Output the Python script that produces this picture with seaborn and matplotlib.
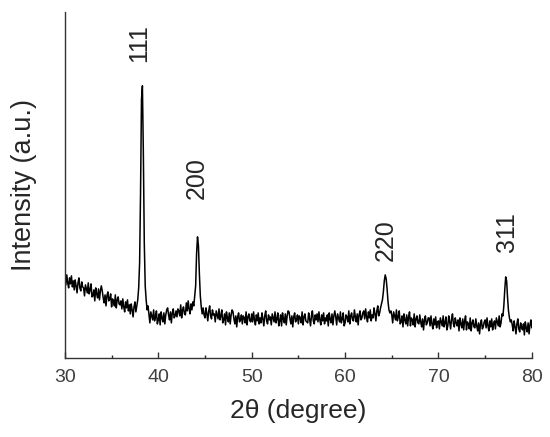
import numpy as np
import pandas as pd
import matplotlib
matplotlib.use('Agg')
import matplotlib.pyplot as plt
from matplotlib.ticker import MultipleLocator
import seaborn as sns

# 2theta grid: 30.0 .. 80.0 step 0.1
two_theta = np.round(np.arange(300, 801) / 10.0, 1)

# intensity, one row per degree (x.0 .. x.9)
intensity = [
    81, 73, 83, 75, 70, 80, 74, 82, 71, 77,    # 30
    68, 78, 72, 65, 75, 80, 70, 67, 76, 71,    # 31
    70, 62, 73, 69, 65, 75, 64, 68, 74, 61,    # 32
    62, 68, 57, 70, 64, 60, 69, 58, 67, 72,    # 33
    67, 60, 55, 63, 52, 62, 66, 57, 59, 64,    # 34
    51, 59, 57, 52, 63, 50, 58, 61, 54, 53,    # 35
    57, 49, 59, 51, 46, 56, 50, 58, 47, 53,    # 36
    44, 54, 48, 41, 51, 56, 46, 52, 58, 70,    # 37
    95, 165, 258, 272, 205, 115, 72, 58, 48, 52,  # 38  (111)
    43, 35, 46, 42, 38, 48, 37, 41, 47, 34,    # 39
    38, 44, 33, 46, 40, 36, 45, 34, 43, 48,    # 40
    50, 43, 38, 46, 35, 45, 49, 40, 42, 47,    # 41
    41, 49, 47, 42, 53, 40, 48, 51, 44, 43,    # 42
    55, 47, 57, 49, 44, 54, 48, 56, 52, 62,    # 43
    72, 104, 121, 112, 84, 62, 51, 44, 50, 43,  # 44  (200)
    40, 50, 44, 37, 47, 52, 42, 39, 48, 43,    # 45
    44, 36, 47, 43, 39, 49, 38, 42, 48, 35,    # 46
    38, 44, 33, 46, 40, 36, 45, 34, 43, 48,    # 47
    46, 39, 34, 42, 31, 41, 45, 36, 38, 43,    # 48
    34, 42, 40, 35, 46, 33, 41, 44, 37, 36,    # 49
    44, 36, 46, 38, 33, 43, 37, 45, 34, 40,    # 50
    35, 45, 39, 32, 42, 47, 37, 34, 43, 38,    # 51
    41, 33, 44, 40, 36, 46, 35, 39, 45, 32,    # 52
    37, 43, 32, 45, 39, 35, 44, 33, 42, 47,    # 53
    46, 39, 34, 42, 31, 41, 45, 36, 38, 43,    # 54
    34, 42, 40, 35, 46, 33, 41, 44, 37, 36,    # 55
    35, 45, 39, 32, 42, 47, 37, 34, 43, 38,    # 56
    44, 36, 46, 38, 33, 43, 37, 45, 34, 40,    # 57
    37, 43, 32, 45, 39, 35, 44, 33, 42, 47,    # 58
    41, 33, 44, 40, 36, 46, 35, 39, 45, 32,    # 59
    35, 43, 41, 36, 47, 34, 42, 45, 38, 37,    # 60
    48, 41, 36, 44, 33, 43, 47, 38, 40, 45,    # 61
    47, 39, 49, 41, 36, 46, 40, 48, 37, 43,    # 62
    40, 50, 44, 37, 47, 52, 42, 45, 50, 54,    # 63
    58, 66, 77, 83, 79, 69, 56, 48, 45, 47,    # 64  (220)
    43, 35, 46, 42, 38, 48, 37, 41, 47, 34,    # 65
    36, 42, 31, 44, 38, 34, 43, 32, 41, 46,    # 66
    32, 40, 38, 33, 44, 31, 39, 42, 35, 34,    # 67
    43, 36, 31, 39, 28, 38, 42, 33, 35, 40,    # 68
    40, 32, 42, 34, 29, 39, 33, 41, 30, 36,    # 69
    37, 29, 40, 36, 32, 42, 31, 35, 41, 28,    # 70
    32, 42, 36, 29, 39, 44, 34, 31, 40, 35,    # 71
    32, 38, 27, 40, 34, 30, 39, 28, 37, 42,    # 72
    28, 36, 34, 29, 40, 27, 35, 38, 31, 30,    # 73
    39, 32, 27, 35, 24, 34, 38, 29, 31, 36,    # 74
    38, 30, 40, 32, 27, 37, 31, 39, 28, 34,    # 75
    37, 29, 40, 36, 32, 42, 31, 35, 44, 42,    # 76
    52, 68, 81, 77, 60, 47, 40, 36, 38, 33,    # 77  (311)
    27, 37, 31, 24, 34, 39, 29, 26, 35, 30,    # 78
    28, 34, 23, 36, 30, 26, 35, 24, 33, 38,    # 79
    30,                                        # 80
]

peak_labels = ['111', '200', '220', '311']
peak_label_x = [37.9, 44.1, 64.4, 77.3]
peak_label_y = [315, 180, 118, 126]

df = pd.DataFrame({'two_theta': two_theta, 'intensity': intensity})

sns.set_style('ticks')
plt.rcParams['font.family'] = ['Liberation Sans', 'DejaVu Sans']

fig = plt.figure(figsize=(5.5, 4.37), dpi=100)
ax = fig.add_axes([0.118, 0.181, 0.849, 0.792])

sns.lineplot(data=df, x='two_theta', y='intensity', color='black',
             linewidth=1.1, ax=ax)

for lab, lx, ly in zip(peak_labels, peak_label_x, peak_label_y):
    ax.text(lx, ly, lab, rotation=90, ha='center', va='center', fontsize=18)

ax.set_xlim(30, 80)
ax.set_ylim(0, 346)
ax.xaxis.set_major_locator(MultipleLocator(10))
ax.xaxis.set_minor_locator(MultipleLocator(5))
ax.tick_params(axis='x', which='major', direction='in', length=4, width=1,
               labelsize=14, pad=8, colors='#333333', labelcolor='#404040')
ax.tick_params(axis='x', which='minor', direction='in', length=2, width=1)
ax.set_yticks([])
ax.set_xlabel('2θ (degree)', fontsize=19, labelpad=9)
ax.set_ylabel('Intensity (a.u.)', fontsize=19.5, labelpad=20)
sns.despine(ax=ax)
for sp in ['left', 'bottom']:
    ax.spines[sp].set_linewidth(1.0)
    ax.spines[sp].set_color('#333333')

fig.savefig('out.png', dpi=100)
